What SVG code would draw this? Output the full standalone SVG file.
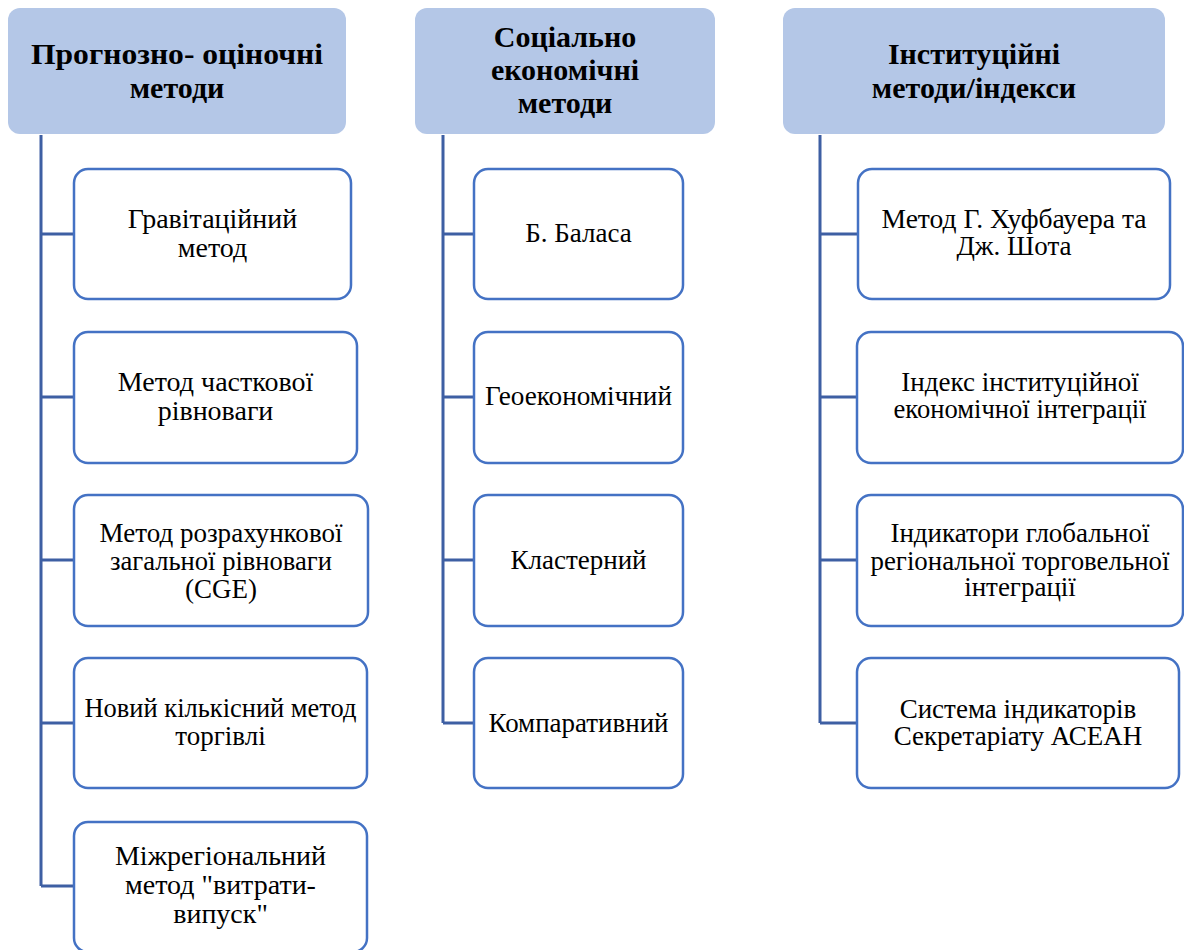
<svg xmlns="http://www.w3.org/2000/svg" width="1184" height="950" viewBox="0 0 1184 950">
<style>
.hdr{fill:#B4C7E7;stroke:none}
.box{fill:#FFFFFF;stroke:#4472C4;stroke-width:2.5}
.con{fill:none;stroke:#3E5FA3;stroke-width:3}
</style>
<rect width="1184" height="950" fill="#FFFFFF"/>
<g id="connectors">
<path class="con" d="M41,135 V886 M41,234 H74 M41,397 H74 M41,560 H74 M41,723 H74 M41,886 H74"/>
<path class="con" d="M443,135 V723 M443,234 H474 M443,397 H474 M443,560 H474 M443,723 H474"/>
<path class="con" d="M820,135 V723 M820,234 H857 M820,397 H857 M820,560 H857 M820,723 H857"/>
</g>
<g id="h1"><rect class="hdr" x="8" y="8" width="338" height="126" rx="12"/>
<text font-family="'Liberation Serif', serif" font-weight="bold" font-size="30" text-anchor="middle" x="177" y="64" textLength="292" lengthAdjust="spacingAndGlyphs">Прогнозно- оціночні</text>
<text font-family="'Liberation Serif', serif" font-weight="bold" font-size="30" text-anchor="middle" x="177" y="98">методи</text></g>
<g id="h2"><rect class="hdr" x="415" y="8" width="300" height="126" rx="12"/>
<text font-family="'Liberation Serif', serif" font-weight="bold" font-size="30" text-anchor="middle" x="565" y="47">Соціально</text>
<text font-family="'Liberation Serif', serif" font-weight="bold" font-size="30" text-anchor="middle" x="565" y="80">економічні</text>
<text font-family="'Liberation Serif', serif" font-weight="bold" font-size="30" text-anchor="middle" x="565" y="113">методи</text></g>
<g id="h3"><rect class="hdr" x="783" y="8" width="382" height="126" rx="12"/>
<text font-family="'Liberation Serif', serif" font-weight="bold" font-size="30" text-anchor="middle" x="974" y="64">Інституційні</text>
<text font-family="'Liberation Serif', serif" font-weight="bold" font-size="30" text-anchor="middle" x="974" y="98">методи/індекси</text></g>

<g id="l1"><rect class="box" x="74" y="169" width="277" height="130" rx="14"/>
<text font-family="'Liberation Serif', serif" font-size="28" text-anchor="middle" x="212.5" y="228">Гравітаційний</text>
<text font-family="'Liberation Serif', serif" font-size="28" text-anchor="middle" x="212.5" y="257">метод</text></g>
<g id="l2"><rect class="box" x="74" y="332" width="283" height="131" rx="14"/>
<text font-family="'Liberation Serif', serif" font-size="28" text-anchor="middle" x="215.5" y="391">Метод часткової</text>
<text font-family="'Liberation Serif', serif" font-size="28" text-anchor="middle" x="215.5" y="420">рівноваги</text></g>
<g id="l3"><rect class="box" x="74" y="495" width="294" height="131" rx="14"/>
<text font-family="'Liberation Serif', serif" font-size="27" text-anchor="middle" x="221" y="542" textLength="243" lengthAdjust="spacingAndGlyphs">Метод розрахункової</text>
<text font-family="'Liberation Serif', serif" font-size="27" text-anchor="middle" x="221" y="570" textLength="222" lengthAdjust="spacingAndGlyphs">загальної рівноваги</text>
<text font-family="'Liberation Serif', serif" font-size="27" text-anchor="middle" x="221" y="598">(CGE)</text></g>
<g id="l4"><rect class="box" x="74" y="658" width="293" height="130" rx="14"/>
<text font-family="'Liberation Serif', serif" font-size="27" text-anchor="middle" x="220.5" y="717" textLength="272" lengthAdjust="spacingAndGlyphs">Новий кількісний метод</text>
<text font-family="'Liberation Serif', serif" font-size="27" text-anchor="middle" x="220.5" y="745">торгівлі</text></g>
<g id="l5"><rect class="box" x="74" y="822" width="293" height="130" rx="14"/>
<text font-family="'Liberation Serif', serif" font-size="28" text-anchor="middle" x="220.5" y="865">Міжрегіональний</text>
<text font-family="'Liberation Serif', serif" font-size="28" text-anchor="middle" x="220.5" y="894">метод "витрати-</text>
<text font-family="'Liberation Serif', serif" font-size="28" text-anchor="middle" x="220.5" y="923">випуск"</text></g>

<g id="m1"><rect class="box" x="474" y="169" width="209" height="130" rx="14"/>
<text font-family="'Liberation Serif', serif" font-size="27" text-anchor="middle" x="578.5" y="242">Б. Баласа</text></g>
<g id="m2"><rect class="box" x="474" y="332" width="209" height="131" rx="14"/>
<text font-family="'Liberation Serif', serif" font-size="27" text-anchor="middle" x="578.5" y="405" textLength="187" lengthAdjust="spacingAndGlyphs">Геоекономічний</text></g>
<g id="m3"><rect class="box" x="474" y="495" width="209" height="131" rx="14"/>
<text font-family="'Liberation Serif', serif" font-size="27" text-anchor="middle" x="578.5" y="569">Кластерний</text></g>
<g id="m4"><rect class="box" x="474" y="658" width="209" height="130" rx="14"/>
<text font-family="'Liberation Serif', serif" font-size="27" text-anchor="middle" x="578.5" y="732" textLength="180" lengthAdjust="spacingAndGlyphs">Компаративний</text></g>

<g id="r1"><rect class="box" x="858" y="169" width="312" height="130" rx="14"/>
<text font-family="'Liberation Serif', serif" font-size="27" text-anchor="middle" x="1014" y="228" textLength="265" lengthAdjust="spacingAndGlyphs">Метод Г. Хуфбауера та</text>
<text font-family="'Liberation Serif', serif" font-size="27" text-anchor="middle" x="1014" y="255">Дж. Шота</text></g>
<g id="r2"><rect class="box" x="857" y="332" width="326" height="131" rx="14"/>
<text font-family="'Liberation Serif', serif" font-size="27" text-anchor="middle" x="1020" y="391">Індекс інституційної</text>
<text font-family="'Liberation Serif', serif" font-size="27" text-anchor="middle" x="1020" y="418" textLength="253" lengthAdjust="spacingAndGlyphs">економічної інтеграції</text></g>
<g id="r3"><rect class="box" x="857" y="495" width="326" height="131" rx="14"/>
<text font-family="'Liberation Serif', serif" font-size="27" text-anchor="middle" x="1020" y="542">Індикатори глобальної</text>
<text font-family="'Liberation Serif', serif" font-size="27" text-anchor="middle" x="1020" y="570" textLength="299" lengthAdjust="spacingAndGlyphs">регіональної торговельної</text>
<text font-family="'Liberation Serif', serif" font-size="27" text-anchor="middle" x="1020" y="596">інтеграції</text></g>
<g id="r4"><rect class="box" x="857" y="658" width="322" height="130" rx="14"/>
<text font-family="'Liberation Serif', serif" font-size="27" text-anchor="middle" x="1018" y="718">Система індикаторів</text>
<text font-family="'Liberation Serif', serif" font-size="27" text-anchor="middle" x="1018" y="745">Секретаріату АСЕАН</text></g>
</svg>
